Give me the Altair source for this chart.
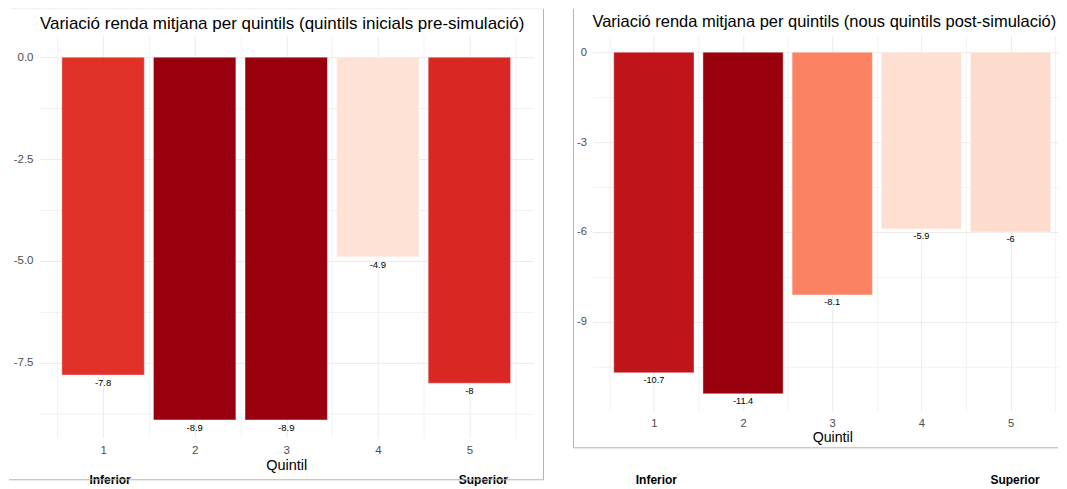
import altair as alt
import pandas as pd

# ---- data ----
quintils = [1, 2, 3, 4, 5]
pre_values = [-7.8, -8.9, -8.9, -4.9, -8.0]
post_values = [-10.7, -11.4, -8.1, -5.9, -6.0]
pre_colors = ["#E03127", "#99000D", "#99000D", "#FEE2D5", "#D92723"]
post_colors = ["#C0141B", "#99000D", "#FB8363", "#FEE0D3", "#FDDCCE"]
end_labels = ["Inferior", "Superior"]
end_quintils = [1, 5]

title_pre = "Variació renda mitjana per quintils (quintils inicials pre-simulació)"
title_post = "Variació renda mitjana per quintils (nous quintils post-simulació)"
x_title = "Quintil"

FONT = "Liberation Sans"
GRID = "#EBEBEB"
FRAME = "#B4B4B4"
TOP = -26.5


def make_df(values):
    return pd.DataFrame({
        "q": quintils,
        "value": values,
        "label": [f"{v:g}" for v in values],
        "base": [0.0] * len(values),
    })


def panel(values, colors, title, title_size, title_x, title_y,
          xdom, ydom, width, height, yvals, ymajor, ylab_expr,
          label_dy, frame_rules, end_dx, quintil_title_x, quintil_title_y,
          fs):
    df = make_df(values)
    ends = pd.DataFrame({"label": end_labels, "q": end_quintils})

    xscale = alt.Scale(domain=xdom, nice=False, zero=False)
    yscale = alt.Scale(domain=ydom, nice=False, zero=False)

    xaxis = alt.Axis(
        values=[0.5, 1, 1.5, 2, 2.5, 3, 3.5, 4, 4.5, 5, 5.5],
        labelExpr="datum.value % 1 == 0 ? format(datum.value, 'd') : ''",
        domain=False, ticks=False, grid=True, gridColor=GRID,
        gridWidth={"condition": {"test": "datum.value % 1 == 0", "value": 1.0}, "value": 0.6},
        labelColor="#4D4D4D", labelFontSize=fs, labelFont=FONT, labelPadding=7,
        title=x_title, titleFont=FONT, titleFontSize=fs + 3, titleFontWeight="normal",
        titleColor="#000000", titleBaseline="middle", titleY=quintil_title_y,
        titleX=quintil_title_x,
    )
    yaxis = alt.Axis(
        values=yvals,
        labelExpr=ylab_expr,
        domain=False, ticks=False, grid=True, gridColor=GRID,
        gridWidth={"condition": {"test": f"datum.value % {ymajor} == 0", "value": 1.0}, "value": 0.6},
        labelColor="#4D4D4D", labelFontSize=fs, labelFont=FONT, labelPadding=6,
        title=None,
    )

    base = alt.Chart(df).transform_calculate(
        lo="datum.q - 0.45", hi="datum.q + 0.45"
    )

    bars = base.mark_bar(stroke="#FFFFFF", strokeWidth=0.4).encode(
        x=alt.X("lo:Q", scale=xscale, axis=xaxis),
        x2="hi:Q",
        y=alt.Y("value:Q", scale=yscale, axis=yaxis),
        y2="base:Q",
        color=alt.Color("q:N", scale=alt.Scale(domain=quintils, range=colors), legend=None),
    )

    labels = alt.Chart(df).mark_text(
        font=FONT, fontSize=fs - 2, color="#000000", baseline="middle", dy=label_dy
    ).encode(
        x=alt.X("q:Q", scale=xscale),
        y=alt.Y("value:Q", scale=yscale),
        text="label:N",
    )

    title_mark = alt.Chart(df.head(1)).mark_text(
        font=FONT, fontSize=title_size, color="#000000", align="left",
        baseline="alphabetic",
    ).encode(
        x=alt.value(title_x), y=alt.value(title_y), text=alt.value(title)
    )

    layers = [bars, labels, title_mark]

    for i, lab in enumerate(end_labels):
        layers.append(
            alt.Chart(ends).transform_filter(alt.datum.label == lab).mark_text(
                font=FONT, fontSize=12, fontWeight="bold", color="#000000",
                baseline="middle", dx=end_dx[i]
            ).encode(
                x=alt.X("q:Q", scale=xscale),
                y=alt.value(445),
                text="label:N",
            )
        )

    for (x1, x2, y1, y2, col) in frame_rules:
        layers.append(
            alt.Chart(df.head(1)).mark_rule(color=col, strokeWidth=1).encode(
                x=alt.value(x1), x2=alt.value(x2), y=alt.value(y1), y2=alt.value(y2)
            )
        )

    return alt.layer(*layers).properties(width=width, height=height)


left = panel(
    pre_values, pre_colors, title_pre, 17, 1, -6,
    [0.3, 5.7], [-9.34, 0.539], 495, 403,
    [0, -1.25, -2.5, -3.75, -5, -6.25, -7.5, -8.75], 2.5,
    "datum.value % 2.5 == 0 ? (datum.value < 0 ? '-' : '') + format(abs(datum.value), '.1f') : ''",
    8,
    [
        (505, 505, TOP, 445, FRAME),
        (-30, 505, 445, 445, FRAME),
        (-28, 505, TOP, TOP, "#F0F0F0"),
    ],
    [7, 14], 247.5, 28, 11.5,
)

right = panel(
    post_values, post_colors, title_post, 16.5, 0, -8,
    [0.311, 5.532], [-11.97, 0.567], 466, 376,
    [0, -1.5, -3, -4.5, -6, -7.5, -9, -10.5], 3,
    "datum.value % 3 == 0 ? (datum.value < 0 ? '-' : '') + format(abs(datum.value), 'd') : ''",
    7,
    [
        (-19, -19, TOP, 413, FRAME),
        (-19, 466, 413, 413, FRAME),
    ],
    [2.5, 4.5], 240, 27, 11.2,
)

chart = alt.hconcat(left, right, spacing=59, bounds="flush").resolve_scale(
    color="independent"
).configure_view(
    stroke=None
).properties(
    padding=0, autosize=alt.AutoSizeParams(type="pad"), background="#FFFFFF"
)

chart.save("out.html", embed_options={"renderer": "svg", "actions": False})
